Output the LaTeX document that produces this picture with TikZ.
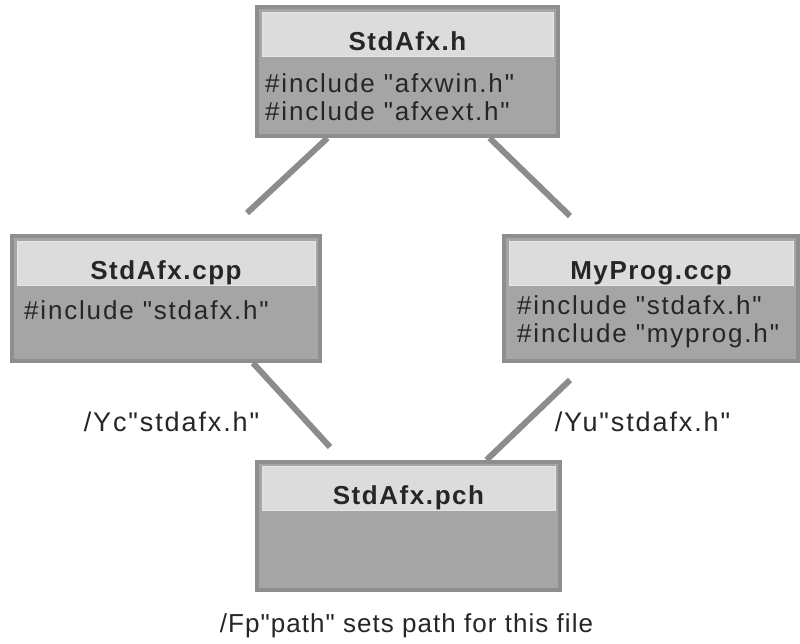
\documentclass[tikz,border=0pt]{standalone}
\usepackage{fontspec}
\newfontfamily\plainsans{Liberation Sans}[LetterSpace=7]
\newfontfamily\titlesans{Liberation Sans}[LetterSpace=6]
\newfontfamily\captionsans{Liberation Sans}[LetterSpace=4]
\usetikzlibrary{calc}
\definecolor{framegray}{HTML}{8E8E8E}
\definecolor{bodygray}{HTML}{A5A5A5}
\definecolor{bandgray}{HTML}{DCDCDC}
\definecolor{wiregray}{HTML}{8C8C8C}
\definecolor{ink}{HTML}{262626}
\tikzset{
  filebox/.style={draw=framegray, fill=bodygray, line width=4pt, inner sep=0pt},
  titleband/.style={draw=bandgray!70!white, fill=bandgray, line width=0.8pt, inner sep=0pt,
    minimum height=44pt, text height=38pt, text depth=6pt,
    font=\titlesans\fontsize{26}{28}\selectfont\bfseries, text=ink},
  codeline/.style={anchor=base west, inner sep=0pt, font=\plainsans\fontsize{26}{28}\selectfont, text=ink},
  note/.style={anchor=base, inner sep=0pt, font=\plainsans\fontsize{27}{28}\selectfont, text=ink},
  wire/.style={draw=wiregray, line width=6pt, line cap=butt}
}
\begin{document}
\begin{tikzpicture}[x=1pt, y=-1pt]
\useasboundingbox[fill=white] (0,0) rectangle (800,643);

% header file
\node[filebox, minimum width=301pt, minimum height=129pt] (stdh) at (407.5,71.5) {};
\node[titleband, minimum width=291pt] (stdhT) at (407.5,34.5) {StdAfx.h};
\node[codeline] (stdh1) at (265,92) {\#include "afxwin.h"};
\node[codeline] (stdh2) at (265,120) {\#include "afxext.h"};

% StdAfx.cpp
\node[filebox, minimum width=308pt, minimum height=125pt] (cpp) at (166,298.5) {};
\node[titleband, minimum width=298pt] (cppT) at (166,263.5) {StdAfx.cpp};
\node[codeline] (cpp1) at (24,319) {\#include "stdafx.h"};

% MyProg.ccp
\node[filebox, minimum width=294pt, minimum height=125pt] (my) at (651,298.5) {};
\node[titleband, minimum width=284pt] (myT) at (651,263.5) {MyProg.ccp};
\node[codeline] (my1) at (517,314) {\#include "stdafx.h"};
\node[codeline] (my2) at (517,342) {\#include "myprog.h"};

% precompiled header
\node[filebox, minimum width=303pt, minimum height=128pt] (pch) at (408.5,526) {};
\node[titleband, minimum width=293pt] (pchT) at (408.5,488.5) {StdAfx.pch};

% connector ends
\coordinate (a1) at (247,213);
\coordinate (a2) at (570,216);
\coordinate (b1) at (330,447);
\coordinate (b2) at (570,380);

\draw[wire] ([xshift=-80pt]stdh.south) -- (a1);
\draw[wire] ([xshift=82pt]stdh.south) -- (a2);
\draw[wire] ([xshift=87pt]cpp.south) -- (b1);
\draw[wire] (b2) -- ([xshift=78pt]pch.north);

% option labels
\node[note] (yc) at (171.5,431) {/Yc"stdafx.h"};
\node[note] (yu) at (642.5,431) {/Yu"stdafx.h"};
\node[note, font=\captionsans\fontsize{26}{28}\selectfont] (fp) at (406.5,632) {/Fp"path" sets path for this file};
\end{tikzpicture}
\end{document}
